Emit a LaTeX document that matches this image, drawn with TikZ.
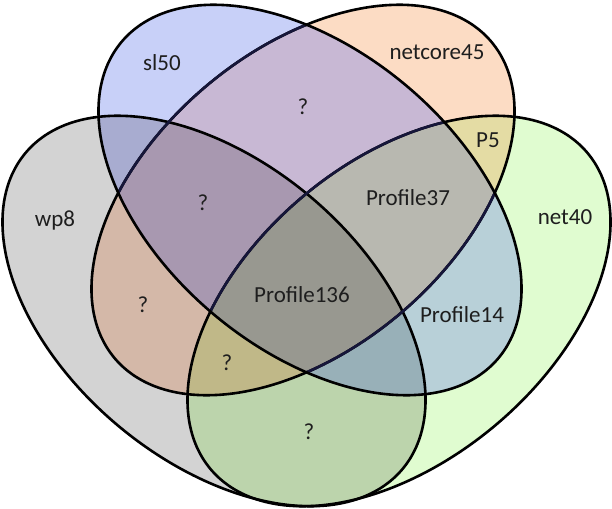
\documentclass[tikz,border=0pt]{standalone}
\usepackage{fontspec}
\setmainfont{Carlito}
\definecolor{cB}{HTML}{C8D0F8}
\definecolor{cO}{HTML}{FCDCC4}
\definecolor{cG}{HTML}{D3D3D3}
\definecolor{cN}{HTML}{E0FCD0}
\definecolor{cBO}{HTML}{C8B8D4}
\definecolor{cBG}{HTML}{A8ACD0}
\definecolor{cBN}{HTML}{B8D0D8}
\definecolor{cOG}{HTML}{D4B8A8}
\definecolor{cON}{HTML}{E4DCA4}
\definecolor{cGN}{HTML}{BCD4AC}
\definecolor{cBOG}{HTML}{A898B0}
\definecolor{cBON}{HTML}{B8B8B0}
\definecolor{cBGN}{HTML}{98B0B8}
\definecolor{cOGN}{HTML}{C0B888}
\definecolor{cBOGN}{HTML}{989890}
\definecolor{navyline}{HTML}{16163A}
\definecolor{txt}{HTML}{1E1E1E}
\begin{document}
\begin{tikzpicture}[x=1pt,y=-1pt,
  outl/.style={draw=black,line width=2.6pt,line join=round},
  navy/.style={draw=navyline,line width=2.6pt,line join=round},
  lbl/.style={text=txt,inner sep=0pt,font=\fontsize{23}{27}\selectfont}]
\useasboundingbox (0,0) rectangle (612,508);
% ellipse: centre (cx,cy), semi-axes 246/149.5, major axis tilted 40 degrees
\def\vennB{plot[smooth cycle,domain=0:357.5,samples=144] ({310+246*cos(\x)*cos(40)-149.5*sin(\x)*sin(40)},{200+246*cos(\x)*sin(40)+149.5*sin(\x)*cos(40)})}
\def\vennO{plot[smooth cycle,domain=0:357.5,samples=144] ({303-246*cos(\x)*cos(40)+149.5*sin(\x)*sin(40)},{200+246*cos(\x)*sin(40)+149.5*sin(\x)*cos(40)})}
\def\vennG{plot[smooth cycle,domain=0:357.5,samples=144] ({214+246*cos(\x)*cos(40)-149.5*sin(\x)*sin(40)},{311+246*cos(\x)*sin(40)+149.5*sin(\x)*cos(40)})}
\def\vennN{plot[smooth cycle,domain=0:357.5,samples=144] ({399-246*cos(\x)*cos(40)+149.5*sin(\x)*sin(40)},{311+246*cos(\x)*sin(40)+149.5*sin(\x)*cos(40)})}
% single regions
\fill[cG] \vennG;
\fill[cN] \vennN;
\fill[cO] \vennO;
\fill[cB] \vennB;
% pairs
\begin{scope}\clip \vennB; \fill[cBO] \vennO; \end{scope}
\begin{scope}\clip \vennB; \fill[cBG] \vennG; \end{scope}
\begin{scope}\clip \vennB; \fill[cBN] \vennN; \end{scope}
\begin{scope}\clip \vennO; \fill[cOG] \vennG; \end{scope}
\begin{scope}\clip \vennO; \fill[cON] \vennN; \end{scope}
\begin{scope}\clip \vennG; \fill[cGN] \vennN; \end{scope}
% triples
\begin{scope}\clip \vennB; \clip \vennO; \fill[cBOG] \vennG; \end{scope}
\begin{scope}\clip \vennB; \clip \vennO; \fill[cBON] \vennN; \end{scope}
\begin{scope}\clip \vennB; \clip \vennG; \fill[cBGN] \vennN; \end{scope}
\begin{scope}\clip \vennO; \clip \vennG; \fill[cOGN] \vennN; \end{scope}
% all four
\begin{scope}\clip \vennB; \clip \vennO; \clip \vennG; \fill[cBOGN] \vennN; \end{scope}
% outlines
\path[outl] \vennG;
\path[outl] \vennN;
\path[outl] \vennO;
\begin{scope}\clip \vennB; \path[navy] \vennO; \path[navy] \vennN; \end{scope}
\path[outl] \vennB;
% labels
\node[lbl] (sl) at (162,63) {sl50};
\node[lbl] (nc) at (437,52) {netcore45};
\node[lbl] (qBO) at (303,107) {?};
\node[lbl] (p5) at (488,140) {P5};
\node[lbl] (wp) at (55,220) {wp8};
\node[lbl] (n40) at (565,217) {net40};
\node[lbl] (p37) at (408,198) {Profile37};
\node[lbl] (qBOG) at (203,203) {?};
\node[lbl] (p136) at (302,295) {Profile136};
\node[lbl] (qOG) at (143,305) {?};
\node[lbl] (p14) at (462,315) {Profile14};
\node[lbl] (qOGN) at (227,363) {?};
\node[lbl] (qGN) at (309,432) {?};
\end{tikzpicture}
\end{document}
